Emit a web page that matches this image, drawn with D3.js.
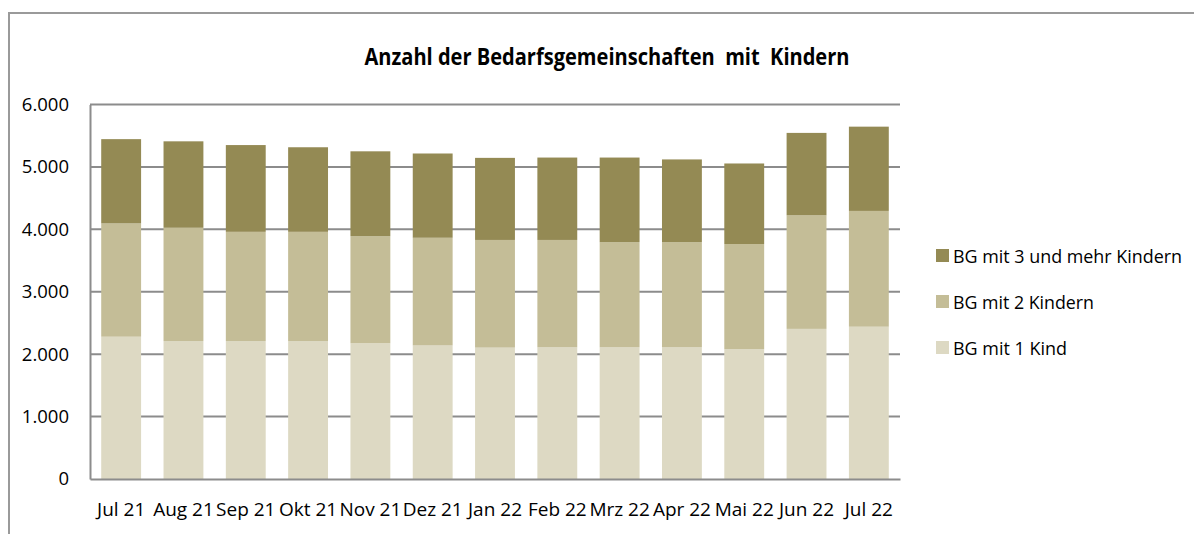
<!DOCTYPE html>
<html>
<head>
<meta charset="utf-8">
<script src="https://cdn.jsdelivr.net/npm/d3@7"></script>
<style>
  body { margin: 0; background: #fff; }
  svg { display: block; font-family: "Open Sans", "Noto Sans", sans-serif; }
</style>
</head>
<body>
<div id="chart"></div>
<script>
// months shown on the x axis
var months = ["Jul 21", "Aug 21", "Sep 21", "Okt 21", "Nov 21", "Dez 21",
              "Jan 22", "Feb 22", "Mrz 22", "Apr 22", "Mai 22", "Jun 22", "Jul 22"];

// values, one per month
var bgOneChild   = [2280, 2210, 2210, 2210, 2175, 2140, 2105, 2110, 2110, 2110, 2080, 2405, 2440];
var bgTwoChildren = [1815, 1815, 1750, 1750, 1715, 1725, 1725, 1720, 1685, 1685, 1685, 1820, 1855];
var bgThreePlus  = [1350, 1385, 1390, 1355, 1360, 1350, 1315, 1320, 1355, 1325, 1290, 1320, 1350];

var seriesNames = ["BG mit 1 Kind", "BG mit 2 Kindern", "BG mit 3 und mehr Kindern"];
var yTicks = [0, 1000, 2000, 3000, 4000, 5000, 6000];

(function () {
    'use strict';
    var width = 1194,
        height = 534,
        plot = {left: 90, right: 900, top: 104.5, bottom: 479},
        colors = ["#DDD9C3", "#C4BD97", "#948A54"],
        legendWidths = [114, 141, 229],
        fmt = d3.formatLocale({decimal: ",", thousands: ".", grouping: [3], currency: ["", "€"]}).format(",d");

    var rows = months.map(function (m, i) {
        return {month: m, one: bgOneChild[i], two: bgTwoChildren[i], three: bgThreePlus[i]};
    });
    var keys = ["one", "two", "three"];
    var stacked = d3.stack().keys(keys)(rows);

    var x = d3.scaleBand().domain(months).range([plot.left, plot.right]).paddingInner(0.36).paddingOuter(0.18);
    var y = d3.scaleLinear().domain([0, 6000]).range([plot.bottom, plot.top]);

    var svg = d3.select("#chart").append("svg")
        .attr("width", width)
        .attr("height", height);

    // outer chart border (clipped on the right and bottom in the original)
    svg.append("path")
        .attr("d", "M9," + height + "V13H" + width)
        .attr("fill", "none")
        .attr("stroke", "#9a9a9a")
        .attr("stroke-width", 2);

    svg.append("text")
        .attr("x", 607)
        .attr("y", 65)
        .attr("text-anchor", "middle")
        .attr("font-weight", "bold")
        .attr("font-size", 24)
        .attr("textLength", 485)
        .attr("lengthAdjust", "spacingAndGlyphs")
        .attr("fill", "#000")
        .style("white-space", "pre")
        .text("Anzahl der Bedarfsgemeinschaften  mit  Kindern");

    // gridlines
    svg.append("g")
        .selectAll("line")
        .data(yTicks.filter(function (d) { return d > 0; }))
        .enter().append("line")
        .attr("x1", plot.left)
        .attr("x2", plot.right)
        .attr("y1", function (d) { return y(d); })
        .attr("y2", function (d) { return y(d); })
        .attr("stroke", "#8c8c8c")
        .attr("stroke-width", 2);

    // y axis
    var yAxis = svg.append("g")
        .attr("transform", "translate(" + plot.left + ",0)")
        .call(d3.axisLeft(y).tickValues(yTicks).tickSize(0).tickPadding(21).tickFormat(fmt));
    yAxis.select(".domain").attr("stroke", "#8c8c8c").attr("stroke-width", 2);
    yAxis.selectAll("text")
        .attr("font-size", 18.5)
        .attr("fill", "#000")
        .attr("font-family", "'Open Sans', sans-serif");

    // bars
    svg.append("g")
        .selectAll("g")
        .data(stacked)
        .enter().append("g")
        .attr("fill", function (d, i) { return colors[i]; })
        .selectAll("rect")
        .data(function (d) { return d; })
        .enter().append("rect")
        .attr("x", function (d) { return x(d.data.month); })
        .attr("width", x.bandwidth())
        .attr("y", function (d) { return y(d[1]); })
        .attr("height", function (d) { return y(d[0]) - y(d[1]); });

    // x axis
    var xAxis = svg.append("g")
        .attr("transform", "translate(0," + plot.bottom + ")")
        .call(d3.axisBottom(x).tickSize(0).tickPadding(24));
    xAxis.select(".domain").attr("stroke", "#8c8c8c").attr("stroke-width", 2);
    xAxis.selectAll("text")
        .attr("font-size", 19)
        .attr("fill", "#000")
        .attr("font-family", "'Open Sans', sans-serif");

    // legend, top entry is the darkest series
    var legendData = seriesNames.map(function (n, i) {
        return {name: n, color: colors[i], len: legendWidths[i]};
    }).reverse();
    var legend = svg.append("g")
        .selectAll("g")
        .data(legendData)
        .enter().append("g")
        .attr("transform", function (d, i) { return "translate(936," + (249 + i * 46) + ")"; });

    legend.append("rect")
        .attr("width", 13)
        .attr("height", 13)
        .attr("fill", function (d) { return d.color; });

    legend.append("text")
        .attr("x", 17)
        .attr("y", 14)
        .attr("font-size", 18)
        .attr("textLength", function (d) { return d.len; })
        .attr("lengthAdjust", "spacingAndGlyphs")
        .attr("fill", "#000")
        .text(function (d) { return d.name; });
}());
</script>
</body>
</html>
